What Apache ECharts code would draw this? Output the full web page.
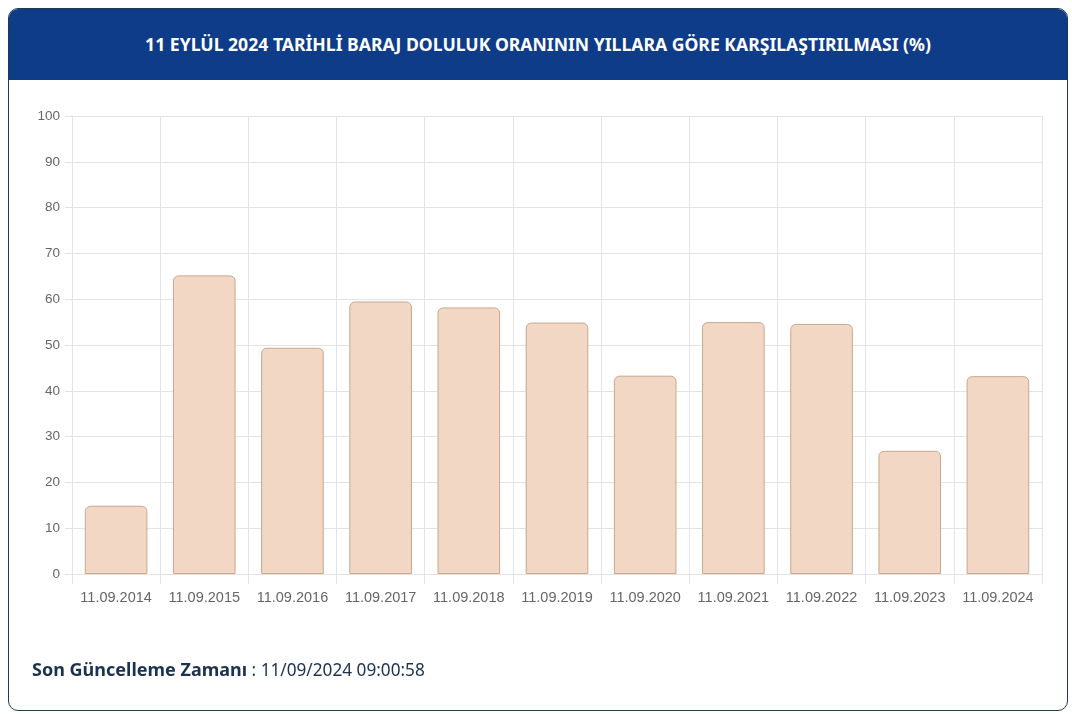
<!DOCTYPE html>
<html>
<head>
<meta charset="utf-8">
<script src="https://cdn.jsdelivr.net/npm/echarts@6/dist/echarts.min.js"></script>
<style>
    html, body { margin: 0; padding: 0; background: #fff; width: 1072px; height: 714px; overflow: hidden; }
    .kart {
        position: absolute; left: 8px; top: 8px; width: 1058px; height: 701px;
        border: 1px solid #1f3b4d; border-radius: 10px; overflow: hidden; background: #fff;
    }
    .baslik {
        height: 71px; background: #0f3c88; color: #fff;
        font-family: "Noto Sans", sans-serif; font-weight: 700; font-size: 17.6px;
        line-height: 71px; text-align: center;
    }
    .alt {
        position: absolute; left: 32px; top: 657px;
        font-family: "Noto Sans", sans-serif; font-size: 17.2px; color: #1b3350;
    }
    .alt b { font-weight: 700; font-size: 18px; }
    #grafik { position: absolute; left: 0; top: 0; width: 1072px; height: 714px; }
</style>
</head>
<body>
<div class="kart">
    <div class="baslik">11 EYLÜL 2024 TARİHLİ BARAJ DOLULUK ORANININ YILLARA GÖRE KARŞILAŞTIRILMASI (%)</div>
</div>
<div id="grafik"></div>
<div class="alt"><b>Son Güncelleme Zamanı</b> : 11/09/2024 09:00:58</div>
<script>
// tarihler ve doluluk oranlari
var tarihler = ['11.09.2014', '11.09.2015', '11.09.2016', '11.09.2017', '11.09.2018', '11.09.2019',
    '11.09.2020', '11.09.2021', '11.09.2022', '11.09.2023', '11.09.2024'];
var oranlar = [14.9, 65.2, 49.4, 59.5, 58.2, 54.9, 43.3, 55.0, 54.6, 26.9, 43.2];

var izgaraRenk = '#e3e3e3';
var yaziRenk = '#666';

var myChart = echarts.init(document.getElementById('grafik'));
var option = {
    animation: false,
    grid: { left: 72, right: 30, top: 116, bottom: 140 },
    xAxis: {
        type: 'category',
        data: tarihler,
        boundaryGap: true,
        axisLine: { lineStyle: { color: izgaraRenk } },
        axisTick: { show: true, interval: 0, length: 10, lineStyle: { color: izgaraRenk } },
        axisLabel: { interval: 0, color: yaziRenk, fontSize: 14.5, margin: 16, fontFamily: 'Liberation Sans, Arial, sans-serif' },
        splitLine: { show: true, interval: 0, lineStyle: { color: izgaraRenk } }
    },
    yAxis: {
        type: 'value',
        min: 0,
        max: 100,
        interval: 10,
        axisLine: { show: true, lineStyle: { color: izgaraRenk } },
        axisTick: { show: true, length: 7, lineStyle: { color: izgaraRenk } },
        axisLabel: { color: yaziRenk, fontSize: 13.5, margin: 12, fontFamily: 'Liberation Sans, Arial, sans-serif' },
        splitLine: { show: true, lineStyle: { color: izgaraRenk } }
    },
    series: [{
        type: 'bar',
        data: oranlar,
        barWidth: '71%',
        itemStyle: {
            color: '#f2d8c4',
            borderColor: '#c9a790',
            borderWidth: 1,
            borderRadius: [5, 5, 0, 0]
        }
    }]
};
myChart.setOption(option);
</script>
</body>
</html>
